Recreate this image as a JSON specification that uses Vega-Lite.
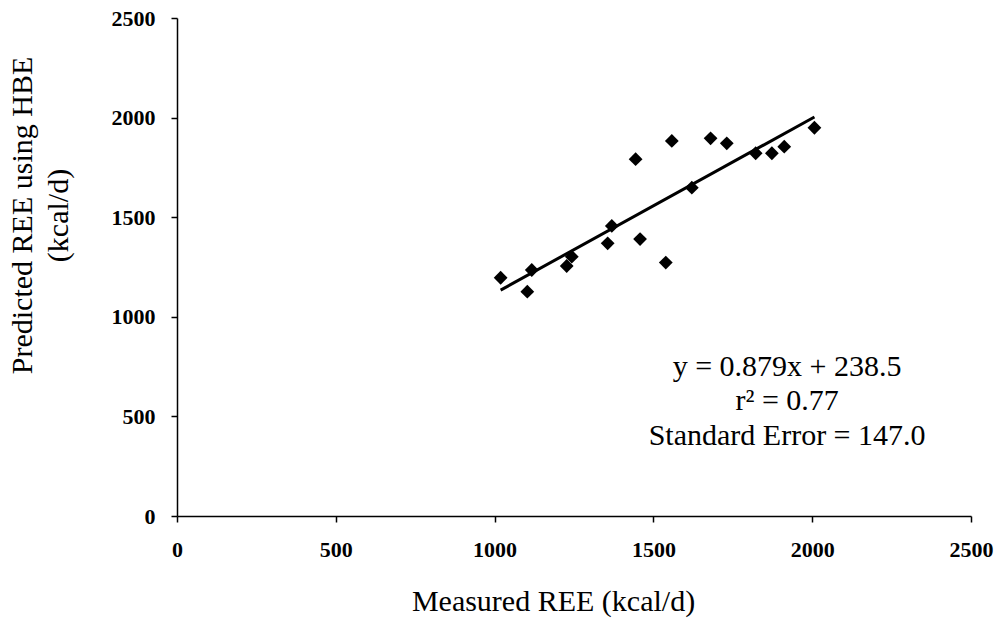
{
  "$schema": "https://vega.github.io/schema/vega-lite/v6.json",
  "width": 794,
  "height": 498,
  "autosize": {"type": "none"},
  "padding": {"left": 177, "top": 18, "right": 29, "bottom": 103},
  "background": "white",
  "config": {
    "view": {"stroke": null},
    "font": "Liberation Serif",
    "axis": {
      "grid": false,
      "domainColor": "black",
      "domainWidth": 1.5,
      "tickColor": "black",
      "tickWidth": 1.5,
      "tickSize": 6,
      "labelFont": "Liberation Serif",
      "labelFontWeight": "bold",
      "labelFontSize": 22,
      "labelColor": "black",
      "labelFlush": false,
      "labelOverlap": false,
      "format": "d",
      "titleFont": "Liberation Serif",
      "titleFontWeight": "normal",
      "titleColor": "black"
    }
  },
  "datasets": {
    "points": [
      {"measured": 1019, "predicted": 1196},
      {"measured": 1103, "predicted": 1126},
      {"measured": 1117, "predicted": 1235},
      {"measured": 1227, "predicted": 1255},
      {"measured": 1243, "predicted": 1302},
      {"measured": 1356, "predicted": 1369},
      {"measured": 1369, "predicted": 1456},
      {"measured": 1458, "predicted": 1390},
      {"measured": 1444, "predicted": 1791},
      {"measured": 1539, "predicted": 1272},
      {"measured": 1558, "predicted": 1883},
      {"measured": 1621, "predicted": 1648},
      {"measured": 1680, "predicted": 1896},
      {"measured": 1731, "predicted": 1871},
      {"measured": 1822, "predicted": 1821},
      {"measured": 1873, "predicted": 1821},
      {"measured": 1912, "predicted": 1854},
      {"measured": 2007, "predicted": 1949}
    ],
    "trend": [
      {"measured": 1019, "predicted": 1134},
      {"measured": 2007, "predicted": 2003}
    ],
    "notes": [
      {"measured": 1921, "predicted": 748, "label": "y = 0.879x + 238.5"},
      {"measured": 1921, "predicted": 577, "label": "r² = 0.77"},
      {"measured": 1921, "predicted": 402, "label": "Standard Error = 147.0"}
    ]
  },
  "layer": [
    {
      "data": {"name": "trend"},
      "mark": {"type": "line", "color": "black", "strokeWidth": 3},
      "encoding": {
        "x": {
          "field": "measured", "type": "quantitative",
          "scale": {"domain": [0, 2500], "nice": false},
          "axis": {"values": [0, 500, 1000, 1500, 2000, 2500], "title": "Measured REE (kcal/d)", "titleFontSize": 30, "labelPadding": 17, "titlePadding": 26, "titleX": 376}
        },
        "y": {
          "field": "predicted", "type": "quantitative",
          "scale": {"domain": [0, 2500], "nice": false},
          "axis": {"values": [0, 500, 1000, 1500, 2000, 2500], "title": ["Predicted REE using HBE", "(kcal/d)"], "titleFontSize": 30, "titleLineHeight": 36, "labelPadding": 16, "titlePadding": 38, "titleY": 197}
        }
      }
    },
    {
      "data": {"name": "points"},
      "mark": {"type": "point", "shape": "diamond", "filled": true, "color": "black", "opacity": 1, "size": 190},
      "encoding": {
        "x": {"field": "measured", "type": "quantitative"},
        "y": {"field": "predicted", "type": "quantitative"}
      }
    },
    {
      "data": {"name": "notes"},
      "mark": {"type": "text", "font": "Liberation Serif", "fontSize": 30, "color": "black", "align": "center", "baseline": "middle"},
      "encoding": {
        "x": {"field": "measured", "type": "quantitative"},
        "y": {"field": "predicted", "type": "quantitative"},
        "text": {"field": "label"}
      }
    }
  ]
}
